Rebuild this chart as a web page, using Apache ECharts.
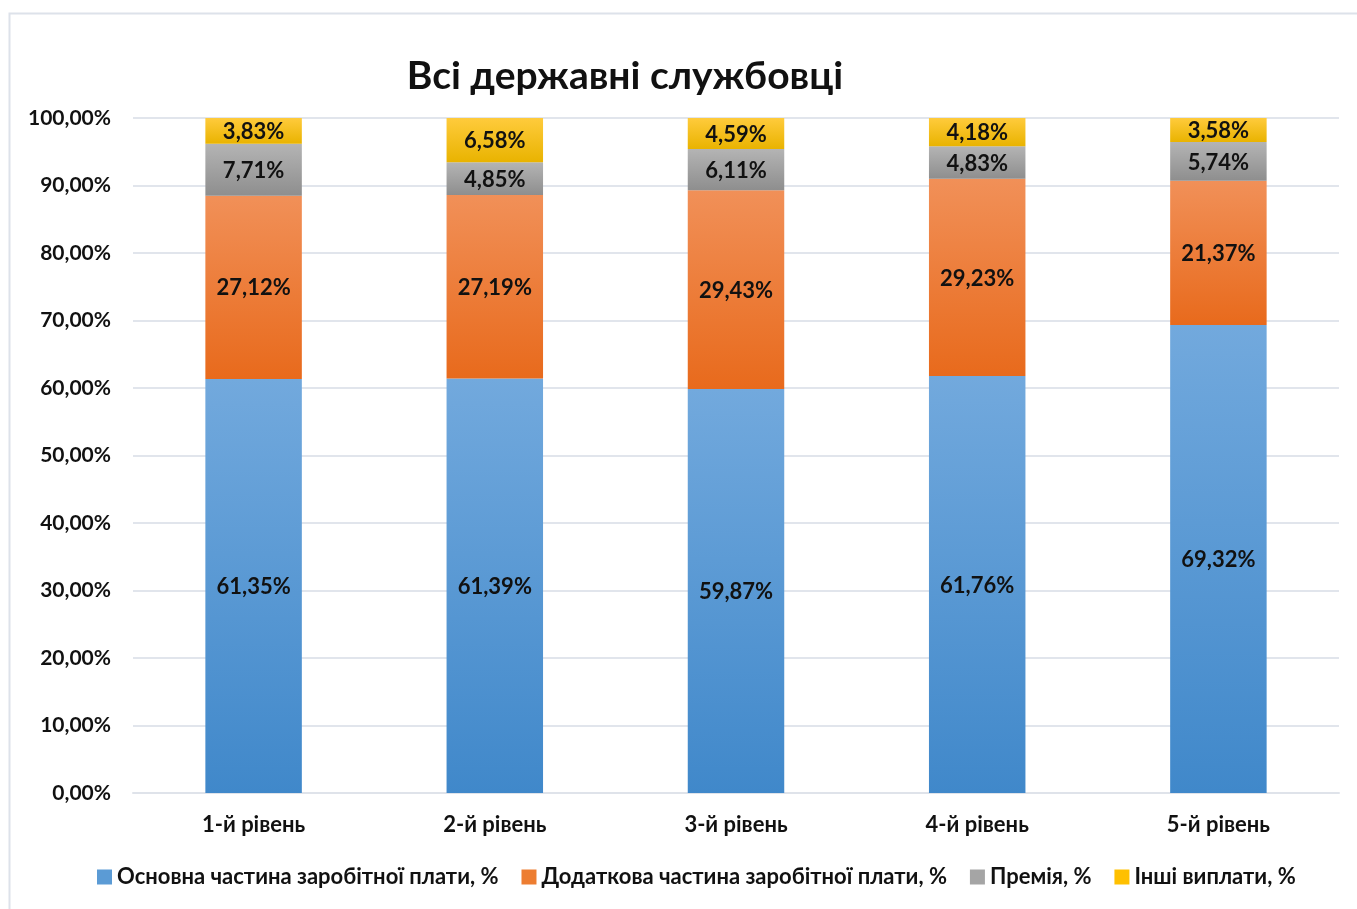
<!DOCTYPE html>
<html>
<head>
<meta charset="utf-8">
<script src="https://cdn.jsdelivr.net/npm/echarts@6/dist/echarts.min.js"></script>
<style>
    html, body { margin: 0; padding: 0; background: #fff; }
    #chart { width: 1357px; height: 909px; }
</style>
</head>
<body>
<div id="chart"></div>
<script>
var categories = ['1-й рівень', '2-й рівень', '3-й рівень', '4-й рівень', '5-й рівень'];
var seriesNames = ['Основна частина заробітної плати, %', 'Додаткова частина заробітної плати, %', 'Премія, %', 'Інші виплати, %'];
var basePart = [61.35, 61.39, 59.87, 61.76, 69.32];
var extraPart = [27.12, 27.19, 29.43, 29.23, 21.37];
var bonus = [7.71, 4.85, 6.11, 4.83, 5.74];
var other = [3.83, 6.58, 4.59, 4.18, 3.58];
var yTicks = [0, 10, 20, 30, 40, 50, 60, 70, 80, 90, 100];

var fontName = 'Lato';

function grad(top, bottom) {
    return new echarts.graphic.LinearGradient(0, 0, 0, 1, [
        { offset: 0, color: top },
        { offset: 1, color: bottom }
    ]);
}

function pct(v) {
    return v.toFixed(2).replace('.', ',') + '%';
}

var colors = [
    grad('#72a9dd', '#4088ca'),
    grad('#f19058', '#e86a1c'),
    grad('#b4b4b4', '#8e8e8e'),
    grad('#ffcb3c', '#e9b300')
];
var legendColors = ['#5b9bd5', '#ed7d31', '#a5a5a5', '#ffc000'];
var values = [basePart, extraPart, bonus, other];

var series = [];
for (var i = 0; i < seriesNames.length; i++) {
    series.push({
        name: seriesNames[i],
        type: 'bar',
        stack: 'total',
        barWidth: '40%',
        data: values[i],
        itemStyle: { color: colors[i] },
        label: {
            show: true,
            position: 'inside',
            offset: [0, 1],
            formatter: function (p) { return pct(p.value); },
            color: '#111',
            fontFamily: fontName,
            fontWeight: 'bold',
            fontSize: 22
        }
    });
}

var chart = echarts.init(document.getElementById('chart'));
chart.setOption({
    color: legendColors,
    animation: false,
    graphic: [{
        type: 'rect',
        shape: { x: 9.5, y: 13.5, width: 1400, height: 950 },
        style: { fill: 'none', stroke: '#dde2ea', lineWidth: 2 },
        silent: true
    }],
    title: {
        text: 'Всі державні службовці',
        left: 620,
        textAlign: 'center',
        top: 52,
        textStyle: {
            fontFamily: fontName,
            fontWeight: 'bold',
            fontSize: 39,
            color: '#111'
        }
    },
    legend: {
        bottom: 16,
        left: 92,
        itemWidth: 15,
        itemHeight: 15,
        itemGap: 23,
        icon: 'rect',
        data: seriesNames.map(function (n, k) {
            return { name: n, itemStyle: { color: legendColors[k] } };
        }),
        textStyle: {
            fontFamily: fontName,
            fontWeight: 'bold',
            fontSize: 22,
            color: '#111'
        }
    },
    grid: {
        left: 133,
        right: 18,
        top: 118,
        bottom: 116,
        containLabel: false
    },
    xAxis: {
        type: 'category',
        data: categories,
        axisLine: { lineStyle: { color: '#dfe3ea', width: 2 } },
        axisTick: { show: false },
        axisLabel: {
            margin: 21,
            fontFamily: fontName,
            fontWeight: 'bold',
            fontSize: 22,
            color: '#111'
        }
    },
    yAxis: {
        type: 'value',
        min: yTicks[0],
        max: yTicks[yTicks.length - 1],
        interval: 10,
        axisLine: { show: false },
        axisTick: { show: false },
        splitLine: { lineStyle: { color: '#e1e5ec', width: 2 } },
        axisLabel: {
            margin: 22,
            formatter: function (v) { return pct(v); },
            fontFamily: fontName,
            fontWeight: 'bold',
            fontSize: 21,
            color: '#111'
        }
    },
    series: series
});
</script>
</body>
</html>
